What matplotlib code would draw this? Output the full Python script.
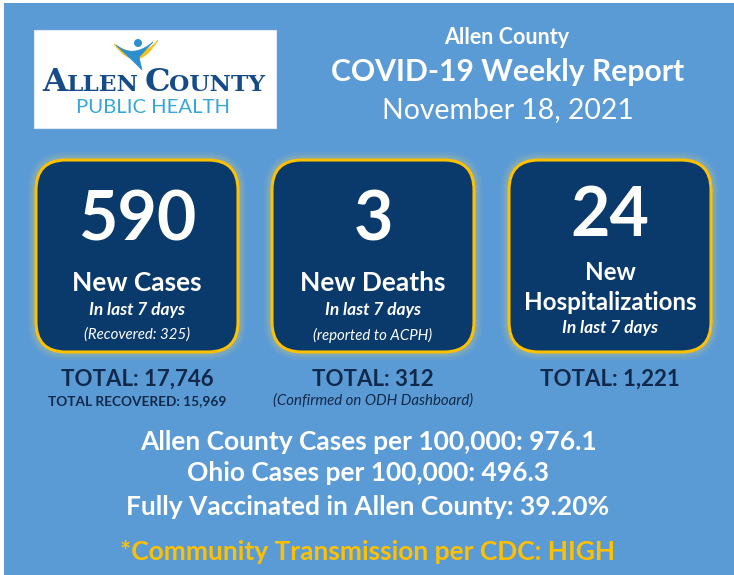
import matplotlib
matplotlib.use("Agg")
import matplotlib.pyplot as plt
from matplotlib.patches import FancyBboxPatch, Rectangle, PathPatch, Circle
from matplotlib.path import Path

plt.rcParams['font.family'] = ['Lato', 'DejaVu Sans']

# ---- data ----
header_lines = ["Allen County", "COVID-19 Weekly Report", "November 18, 2021"]
new_counts = [590, 3, 24]
count_labels = [["New Cases"], ["New Deaths"], ["New", "Hospitalizations"]]
period_labels = ["In last 7 days", "In last 7 days", "In last 7 days"]
box_notes = ["(Recovered: 325)", "(reported to ACPH)", ""]
totals = ["17,746", "312", "1,221"]
total_notes = ["TOTAL RECOVERED: 15,969", "(Confirmed on ODH Dashboard)", ""]
rate_lines = ["Allen County Cases per 100,000: 976.1",
              "Ohio Cases per 100,000: 496.3",
              "Fully Vaccinated in Allen County: 39.20%"]
alert_line = "*Community Transmission per CDC: HIGH"

BG = "#5B9BD5"
NAVY = "#0A3A6C"
DARK = "#10294A"
GOLD = "#FFC000"

fig = plt.figure(figsize=(7.34, 5.75), dpi=100)
fig.patch.set_facecolor("white")
ax = fig.add_axes([0, 0, 1, 1])
ax.set_xlim(0, 734)
ax.set_ylim(575, 0)
ax.axis("off")

# background panel (thin white margin top/left)
ax.add_patch(Rectangle((4, 3), 734, 575, facecolor=BG, edgecolor="none"))

# ---- logo ----
ax.add_patch(Rectangle((34, 30), 242, 98, facecolor="white", edgecolor="#dfe9f5", lw=0.8))
LOGO_BLUE = "#154C87"
LIGHT_BLUE = "#36A6DE"
serif = ['DejaVu Serif']
renderer = fig.canvas.get_renderer()
inv = ax.transData.inverted()


def text_width(t):
    bb = t.get_window_extent(renderer=renderer)
    (x0, _), (x1, _) = inv.transform([(bb.x0, bb.y0), (bb.x1, bb.y1)])
    return x1 - x0

# small-caps wordmark: big initial caps, smaller remaining caps
pieces = [("A", 23.0, 0), ("LLEN", 16.8, 0), ("C", 23.0, 6), ("OUNTY", 16.8, 0)]
texts = []
xcur = 0
for s, size, gap in pieces:
    xcur += gap
    t = ax.text(xcur, 91, s, fontsize=size, fontweight="bold", family=serif,
                color=LOGO_BLUE, ha="left", va="baseline")
    texts.append((t, xcur))
    xcur += text_width(t) - 0.5
shift = 153.5 - xcur / 2
for t, x in texts:
    t.set_x(x + shift)

ax.text(152.5, 113, "PUBLIC HEALTH", fontsize=14.6, color=LIGHT_BLUE, ha="center", va="baseline")
# icon: yellow swoosh
sw = Path([(114, 44), (137, 76), (158, 40), (140, 62), (114, 44)],
          [Path.MOVETO, Path.CURVE3, Path.CURVE3, Path.CURVE3, Path.CURVE3])
ax.add_patch(PathPatch(sw, facecolor="#F2C31B", edgecolor="#F2C31B", lw=0.5))
# icon: blue figure
fg = Path([(116, 45), (133, 59), (153, 42), (139, 57), (142, 70), (132, 60), (116, 45)],
          [Path.MOVETO, Path.CURVE3, Path.CURVE3, Path.LINETO, Path.LINETO, Path.LINETO, Path.CLOSEPOLY])
ax.add_patch(PathPatch(fg, facecolor="#2E8FD0", edgecolor="#2E8FD0", lw=0.5))
ax.add_patch(Circle((138, 43), 4, facecolor="#2E8FD0", edgecolor="none"))

# ---- header ----
ax.text(507, 37, header_lines[0], fontsize=15.5, fontweight="bold", color="white", ha="center", va="center")
ax.text(508, 72, header_lines[1], fontsize=21.7, fontweight="bold", color="white", ha="center", va="center")
ax.text(508, 110, header_lines[2], fontsize=20.4, color="white", ha="center", va="center")

# ---- boxes ----
box_x = [36, 272, 509]
box_w, box_h, box_y = 202, 192, 160
for i in range(3):
    x0 = box_x[i]
    cx = x0 + box_w / 2
    for lw, a in [(12, 0.05), (9, 0.07), (6, 0.10)]:
        ax.add_patch(FancyBboxPatch((x0, box_y), box_w, box_h,
                                    boxstyle="round,pad=0,rounding_size=30",
                                    facecolor="none", edgecolor="#FFE066", lw=lw, alpha=a))
    ax.add_patch(FancyBboxPatch((x0, box_y), box_w, box_h,
                                boxstyle="round,pad=0,rounding_size=30",
                                facecolor=NAVY, edgecolor=GOLD, lw=2.2))
    if len(count_labels[i]) == 1:
        ax.text(cx, 221, str(new_counts[i]), fontsize=49, fontweight="bold", color="white", ha="center", va="center")
        ax.text(cx, 283, count_labels[i][0], fontsize=19, fontweight="bold", color="white", ha="center", va="center")
        ax.text(cx, 310, period_labels[i], fontsize=12.5, fontweight="bold", style="italic", color="white", ha="center", va="center")
        ax.text(cx, 335, box_notes[i], fontsize=10.8, style="italic", color="white", ha="center", va="center")
    else:
        ax.text(cx, 217, str(new_counts[i]), fontsize=49, fontweight="bold", color="white", ha="center", va="center")
        ax.text(cx, 272, count_labels[i][0], fontsize=17.4, fontweight="bold", color="white", ha="center", va="center")
        ax.text(cx, 302, count_labels[i][1], fontsize=17.4, fontweight="bold", color="white", ha="center", va="center")
        ax.text(cx, 328, period_labels[i], fontsize=12.5, fontweight="bold", style="italic", color="white", ha="center", va="center")
    ax.text(cx, 379, "TOTAL: " + totals[i], fontsize=16, fontweight="bold", color=DARK, ha="center", va="center")
    if total_notes[i]:
        if total_notes[i].startswith("("):
            ax.text(cx, 401, total_notes[i], fontsize=10.8, style="italic", color=DARK, ha="center", va="center")
        else:
            ax.text(cx, 401, total_notes[i], fontsize=9.8, fontweight="bold", color=DARK, ha="center", va="center")

# ---- rates ----
for line, y in zip(rate_lines, [442, 473, 507]):
    ax.text(368, y, line, fontsize=19, fontweight="bold", color="white", ha="center", va="center")
ax.text(368, 552, alert_line, fontsize=19, fontweight="bold", color=GOLD, ha="center", va="center")

fig.savefig("out.png", dpi=100, facecolor=fig.get_facecolor())
